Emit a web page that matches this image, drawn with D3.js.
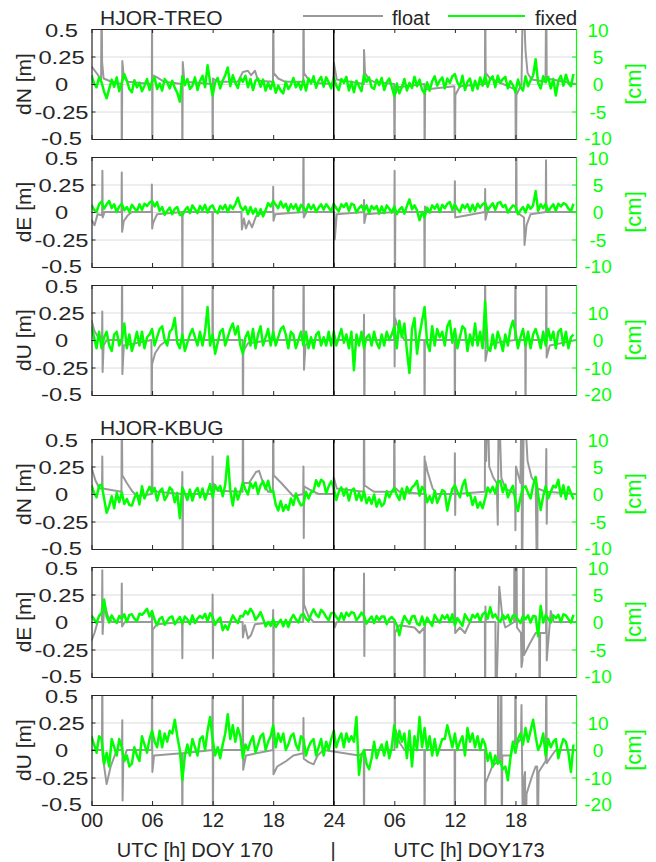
<!DOCTYPE html>
<html>
<head>
<meta charset="utf-8">
<script src="https://cdn.jsdelivr.net/npm/d3@7"></script>
<style>
  body { margin: 0; background: #fff; }
  text { font-family: Arial, 'Liberation Sans', sans-serif; }
</style>
</head>
<body>
<div id="app"></div>
<script>
// x axis (hours since 00 UTC of DOY 170, second day is DOY 173)
const hourTicks = [0, 6, 12, 18, 24, 30, 36, 42]
const hourLabels = ['00', '06', '12', '18', '24', '06', '12', '18']
const leftTicks = [-0.5, -0.25, 0, 0.25, 0.5]
const cmTicksNE = [-10, -5, 0, 5, 10]
const cmTicksU = [-20, -10, 0, 10]
const componentLabels = ['dN [m]', 'dE [m]', 'dU [m]']
const baselineTitles = ['HJOR-TREO', 'HJOR-KBUG']

// fixed solutions are sampled every 0.25 h, values in cm
const fixedStep = 0.25

// float solutions: [hour, metres]
const floatTreoN = [
  [0,0.16],[0.5,0.1],[0.95,0.04],[1.0,0.9],[1.05,0.2],[1.2,0.05],[2,0.02],[2.98,0],[3.0,-0.9],[3.05,0.21],[3.2,0.06],[3.6,0.02],
  [5.98,0],[6.0,0.9],[6.02,-0.9],[6.05,0.08],[6.5,0.06],[7.2,0.02],[8.98,0],[9.0,-0.9],[9.04,0.2],[9.2,0.02],
  [11.98,0],[12.0,-0.9],[12.04,0.05],[12.5,0.02],[14.5,0.02],[15.0,0.11],[15.5,0.12],[15.8,0.08],[16.2,0.12],[16.5,0.03],
  [17.98,0.02],[18.0,0.9],[18.05,0.1],[18.5,0.05],[19.2,0.02],[20.98,0.02],[21.0,0.9],[21.05,0.1],[21.5,0.04],[22.2,0.01],
  [23.95,0],[24.02,0.19],[24.3,0.04],[26.98,0],[27.0,0.31],[27.1,0.1],[27.5,0.04],[28,0.02],[29.98,0],[30.02,-0.9],[30.06,-0.1],[30.4,-0.03],
  [32.98,0],[33.0,-0.9],[33.05,-0.05],[35.95,-0.02],[36.0,-0.9],[36.05,-0.1],[36.5,-0.02],[38.98,0],[39.0,0.9],[39.05,0.1],[39.5,0.05],[40.5,0.01],
  [42.0,-0.05],[42.05,-0.9],[42.1,-0.1],[42.6,0],[42.75,0.9],[43.0,0.3],[43.2,0.1],[43.6,0.04],[44.98,0.02],[45.05,0.9],[45.1,0.05],[48,0]
]
const floatTreoE = [
  [0,-0.07],[0.3,-0.12],[0.6,-0.02],[1.05,-0.03],[1.08,0.375],[1.11,-0.05],[1.3,0],[2.97,0],[3.0,0.36],[3.03,-0.18],[3.2,-0.08],[3.6,-0.03],[4,0],
  [5.95,0],[5.98,0.25],[6.01,-0.15],[6.1,-0.1],[6.5,-0.02],[8.98,0],[9.0,-0.9],[9.03,0],[11.98,0],[12.0,-0.9],[12.03,0],
  [14.85,0],[14.9,-0.16],[15.1,-0.06],[15.3,-0.15],[15.6,-0.08],[15.9,-0.14],[16.3,-0.04],[17,0],[17.98,0],[18.0,0.23],[18.03,-0.08],[18.2,-0.02],
  [20.97,0],[21.0,0.9],[21.03,-0.05],[21.3,0],[24.05,0],[24.1,-0.25],[24.3,-0.02],[26.97,0],[27.0,0.11],[27.03,-0.1],[27.2,-0.02],
  [30.0,0],[30.03,0.375],[30.06,-0.9],[30.1,0],[32.97,0],[33.0,-0.9],[33.03,0.05],[33.2,0],[35.97,0],[36.0,0.28],[36.03,-0.05],
  [38.97,0],[39.0,0.21],[39.03,-0.07],[39.2,0],[42.05,0],[42.08,0.9],[42.12,0],[42.85,-0.05],[42.9,-0.3],[43.1,-0.12],[43.5,-0.02],
  [45.0,0],[45.03,0.47],[45.06,0],[48,0]
]
const floatTreoU = [
  [0,0.18],[0.3,0.08],[0.7,0.02],[1.04,0],[1.07,0.26],[1.1,-0.29],[1.2,-0.05],[1.5,0],[3.0,0],[3.03,0.9],[3.06,-0.31],[3.2,-0.05],
  [5.94,0],[5.96,-0.9],[6.0,-0.22],[6.3,-0.12],[6.8,-0.05],[7.5,0],[8.98,0],[9.0,0.9],[9.03,0],[11.98,0],[12.0,0.9],[12.03,0],
  [14.98,0],[15.0,-0.9],[15.04,-0.1],[15.5,-0.03],[17.98,0],[18.0,0.9],[18.03,0],[20.98,0],[21.02,0.9],[21.05,-0.27],[21.2,-0.05],[21.6,0],
  [26.97,0],[27.0,0.23],[27.03,-0.9],[27.07,0],[29.97,0],[30.0,0.9],[30.03,-0.24],[30.07,0.2],[30.5,0.08],[31,0],
  [32.97,0],[33.0,-0.9],[33.03,0],[35.97,0],[36.0,-0.9],[36.03,0],[38.97,0],[39.0,0.9],[39.03,-0.19],[39.2,-0.1],[39.8,-0.03],
  [41.97,0],[42.0,0.9],[42.03,0],[42.97,0],[43.0,-0.9],[43.03,0],[45.03,0],[45.06,0.9],[45.09,-0.16],[45.4,-0.05],[48,0]
]
const floatKbugN = [
  [0,0.24],[0.4,0.12],[0.8,0.05],[1.04,0.05],[1.07,0.34],[1.1,0.05],[2.97,0.02],[3.0,0.9],[3.05,0.17],[3.5,0.1],[4.0,0.03],[4.5,-0.02],
  [5.97,0],[6.0,0.9],[6.04,0.06],[6.5,0.02],[8.97,0],[9.0,0.2],[9.03,-0.9],[9.06,0],[11.97,0],[12.0,0.34],[12.03,-0.9],[12.06,0.1],[12.5,0.03],
  [14.97,0.02],[15.0,0.9],[15.04,0.1],[15.6,0.1],[16.3,0.2],[16.6,0.21],[17.0,0.1],[17.5,0.02],[17.97,0.02],[18.0,0.9],[18.04,0.17],[18.8,0.1],[19.5,0.03],[20,-0.02],
  [20.97,0],[21.0,0.25],[21.03,-0.4],[21.06,0.07],[21.6,0.04],[22.5,0],[23.97,0],[24.0,0.15],[24.3,0.05],[26.97,0.02],[27.0,0.9],[27.04,0.08],[27.5,0.05],[28.0,0.02],
  [29.97,0.02],[30.0,0.9],[30.04,0.06],[30.5,0.02],[32.97,0],[33.0,0.34],[33.03,-0.9],[33.06,0.3],[33.3,0.2],[33.8,0.05],[34.2,0],
  [35.97,0],[36.0,0.37],[36.03,-0.19],[36.06,0],[38.97,0.02],[39.0,0.9],[39.1,0.3],[39.25,0.9],[39.4,0.25],[39.8,0.15],[40.15,0.1],[40.25,-0.28],[40.35,0.9],[40.6,0.15],[41.0,0.05],
  [41.97,0],[42.0,-0.33],[42.05,0.25],[42.5,0.1],[42.6,0.9],[42.65,-0.9],[42.75,0.05],[42.85,0.9],[43.2,0.3],[43.6,0.15],[44.0,0.1],[44.15,-0.9],[44.2,0.05],
  [45.0,0.02],[45.06,0.41],[45.1,-0.27],[45.15,0.02],[48,0]
]
const floatKbugE = [
  [0,-0.17],[0.3,-0.1],[0.6,0],[1.04,0],[1.07,0.47],[1.1,-0.11],[1.2,0.05],[1.3,0.16],[1.6,0.06],[2.0,0],[2.97,0],[3.0,0.35],[3.03,-0.04],[3.3,0],
  [5.97,0],[6.0,0.07],[6.03,-0.9],[6.06,-0.07],[6.5,-0.02],[8.97,0],[9.0,-0.33],[9.03,0],[11.97,0],[12.0,0.25],[12.03,-0.33],[12.06,0],
  [14.97,0],[15.0,-0.14],[15.2,-0.03],[15.5,-0.15],[15.8,-0.12],[16.2,-0.02],[17.97,0],[18.0,0.11],[18.03,-0.9],[18.06,0],
  [20.97,0],[21.0,0.9],[21.05,0.16],[21.5,0.05],[22.0,0],[24.05,0],[24.1,-0.05],[24.3,0],[26.97,0],[27.0,0.44],[27.03,-0.31],[27.06,0],
  [30.0,0],[30.03,-0.9],[30.06,-0.1],[30.5,-0.03],[32.0,-0.05],[32.5,-0.1],[32.97,-0.05],[33.0,-0.9],[33.03,0],
  [35.97,0],[36.0,0.9],[36.03,-0.1],[36.5,-0.05],[37.0,-0.1],[37.5,0],[38.97,0],[39.0,-0.9],[39.03,0.14],[39.06,0],
  [40.02,0],[40.05,-0.9],[40.4,0.32],[40.7,0.05],[41.0,-0.05],[41.87,0],[41.9,0.9],[41.95,0],[42.1,0.9],[42.15,-0.05],[42.55,-0.1],[42.6,-0.41],[42.7,-0.35],[42.8,0.9],[42.85,-0.3],[43.4,-0.2],[44.0,-0.1],
  [44.35,-0.1],[44.4,-0.9],[44.45,-0.1],[45.03,-0.1],[45.06,0.9],[45.1,-0.35],[45.5,0.1],[45.8,0],[48,0]
]
const floatKbugU = [
  [0,0],[1.04,0],[1.07,0.9],[1.1,-0.05],[1.5,-0.31],[1.9,-0.15],[2.5,0],[3.02,0],[3.05,0.27],[3.08,-0.46],[3.15,-0.1],[3.5,0],
  [5.97,0],[6.0,0.9],[6.03,-0.2],[6.2,-0.05],[8.97,-0.03],[9.0,-0.9],[9.03,-0.03],[11.97,0],[12.0,0.9],[12.03,-0.9],[12.06,0],
  [14.97,0],[15.0,0.9],[15.03,-0.18],[15.3,-0.05],[17.97,0],[18.0,0.9],[18.03,-0.22],[18.4,-0.15],[19.3,-0.1],[20.0,-0.05],
  [20.97,-0.03],[21.0,0.29],[21.03,-0.08],[21.5,-0.11],[22.0,-0.13],[22.4,-0.05],[23,0],[26.5,-0.05],[26.97,-0.02],[27.0,-0.9],[27.03,0],
  [30.02,0],[30.05,0.9],[30.08,0.2],[30.5,0.07],[31,0],[32.97,0],[33.0,-0.9],[33.03,0],[35.97,0],[36.0,-0.9],[36.03,0],
  [38.97,0],[39.0,-0.9],[39.05,-0.3],[39.7,-0.15],[40.25,-0.1],[40.3,0.9],[40.35,-0.1],[40.55,-0.05],[40.6,0.9],[40.65,-0.9],[40.7,-0.05],[41.5,-0.05],
  [41.97,0.1],[42.0,0.9],[42.05,0.05],[42.55,0.1],[42.6,0.41],[42.75,-0.9],[42.8,-0.3],[42.95,-0.2],[43.0,-0.9],[43.1,-0.4],[43.6,-0.25],[44.0,-0.15],
  [44.15,-0.15],[44.2,-0.9],[44.3,-0.2],[45.0,-0.1],[45.06,0.9],[45.1,-0.12],[45.6,-0.05],[46,0],[48,0]
]

// fixed solutions [cm], one row per 6 hours
const fixedTreoN = [
  1.6,0.1,-0.6,1.2, 0.3,-1.4,-2.6,-0.9, 0.8,-0.5,1.2,-1.3, 0.2,1.8,0.6,-0.9, -1.5,0.7,-0.6,0.2, -1.3,-0.3,0.9,-1.1,
  0.4,1.2,-0.9,0.1, -1.2,0.9,0.3,-0.8, 0.6,-0.7,-1.6,-3.2, 1.4,-0.2,0.9,-0.9, -0.3,1.2,-1.1,0.5, 1.5,-0.6,3.4,0.4,
  -2.1,0.3,1.1,-0.8, 0.6,1.6,3.0,-0.4, 1.6,0.2,-0.7,1.1, 0.4,1.5,-0.6,0.9, -1.1,0.6,1.0,-0.5, 0.8,-1.2,0.2,-0.9,
  0.5,-1.6,-0.3,-1.2, -1.7,0.4,-0.9,-0.2, 1.1,-0.6,0.3,-1.0, 0.7,-1.2,1.0,0.1, 1.4,-0.7,0.6,1.3, -0.5,1.2,0.3,-0.8,
  1.2,-0.3,-1.1,0.9, 0.2,1.3,-1.2,0.4, -1.5,0.6,-0.4,-1.3, 1.7,0.4,1.2,-0.6, -0.9,0.8,-0.2,1.1, -1.1,0.3,1.0,-0.5,
  -2.2,0.1,-1.7,-0.6, 0.9,-1.2,0.2,-0.7, 1.3,-0.4,0.8,-1.0, -1.7,0.3,-1.2,0.5, 1.4,-0.3,0.6,1.2, -0.8,1.0,0.2,1.4,
  1.8,0.3,-0.5,1.5, -1.1,0.4,1.0,-1.2, 0.6,-0.9,1.2,-0.3, 1.6,-0.5,0.9,1.4, -0.6,1.5,0.2,0.9, 1.3,-0.8,0.5,-0.2,
  -1.5,0.8,-0.6,-1.2, 1.4,-0.4,0.7,1.5, 4.5,0.2,-0.8,1.4, 0.3,1.3,-0.8,0.9, -2.1,0.6,1.5,-0.3, 1.7,0.2,-0.4,1.8
]
const fixedTreoE = [
  1.3,0.4,0.0,1.4, 1.9,0.6,1.4,2.0, 0.7,1.4,0.0,1.0, 1.5,0.3,0.9,0.0, 1.3,0.7,0.1,1.4, 0.4,1.5,1.1,1.7,
  2.0,1.0,1.8,0.2, 0.9,-0.5,0.2,0.8, -0.4,0.6,0.9,-0.5, -0.6,0.3,0.9,-0.2, 1.2,0.5,-0.2,1.1, 0.3,1.3,-0.1,0.9,
  1.2,0.2,-0.2,1.1, 0.5,1.3,0.0,1.2, 0.6,1.4,2.6,1.0, 0.3,1.0,-0.4,0.9, -0.3,0.6,-0.7,0.5, -0.8,0.3,1.6,1.0,
  2.0,1.3,0.7,1.9, 0.8,1.5,0.1,1.4, 0.6,1.4,0.0,1.3, 0.8,0.1,1.4,0.5, 1.3,0.0,0.8,1.4, 0.4,1.4,0.8,0.1,
  1.5,0.7,0.1,1.4, 0.9,1.6,0.2,1.5, 1.3,-0.1,0.7,1.2, 0.2,1.2,-0.2,1.1, 0.5,1.1,-0.3,1.0, -0.2,1.2,0.6,-0.1,
  1.0,-0.4,0.4,0.9, -0.3,1.1,2.3,0.5, 1.2,0.3,-1.5,0.0, -1.0,0.8,-0.1,1.2, 0.6,1.4,0.0,1.3, 0.7,1.5,1.8,0.4,
  1.4,0.5,0.0,1.3, 0.7,1.4,0.1,1.3, 0.2,1.5,0.8,1.4, 1.7,0.3,1.0,1.6, 0.4,1.6,1.8,0.9, 1.3,-0.1,0.6,1.2,
  1.0,-0.4,0.3,0.9, -0.1,1.3,0.6,1.2, 3.8,0.2,1.4,0.7, 1.5,0.1,0.8,1.4, 0.2,1.5,1.0,1.6, 1.4,0.6,0.1,1.5
]
const fixedTreoU = [
  5,1,-3,3, -3,1,3,-2, -4,2,3,-2, 0,6,-3,2, -4,-1,3,-2, 3,-3,1,2,
  4,-2,1,4, 5,0,-2,3, 4,8,-1,-3, 2,-4,-1,2, 4,1,-2,3, -2,3,12,-2,
  2,-5,-1,3, 4,-2,1,4, 6,2,5,-2, -5,1,3,-2, 4,-3,2,5, -2,1,4,-2,
  3,-2,1,4, 5,2,-3,3, 2,-3,0,3, -2,3,-3,1, -3,2,3,-2, 1,-2,3,-2,
  3,-2,1,4, -1,2,-3,3, -11,2,-2,3, -3,1,2,-2, 3,-1,-3,2, -2,3,0,2,
  5,-3,7,1, 6,-4,-12,4, 8,-5,2,7, 12,-1,-4,5, -2,4,1,3, -2,5,7,-1,
  4,-3,1,5, 4,-4,2,-2, 6,-2,3,-3, 14,-3,-4,2, -3,3,0,-4, 2,-2,4,7,
  3,-3,1,4, -2,3,-3,2, 4,1,-3,3, -2,4,0,3, -3,3,4,-2, 3,-3,1,2
]
const fixedKbugN = [
  1.6,0.2,-0.6,1.5, 1.7,-0.8,-3.4,-2.2, -0.4,-2.6,0.2,-1.5, 0.3,-1.8,-0.9,-2.0, -2.1,-0.7,0.2,-1.9, 1.4,-0.8,0.3,1.3,
  0.2,1.1,-1.2,0.5, 1.0,-1.1,-0.3,1.2, 0.7,-1.5,0.2,-4.4, 1.2,0.1,-1.1,0.8, -1.2,0.4,1.1,-0.6, 1.0,-1.0,0.3,1.8,
  -0.6,1.6,0.7,1.5, -0.4,1.7,6.8,0.6, -2.1,1.0,-1.0,0.4, 2.1,0.8,-0.1,2.0, 1.1,2.1,0.0,1.6, 2.3,0.9,2.4,0.5,
  0.6,-1.9,-3.0,-1.3, -3.1,-2.0,-2.9,-0.8, -2.0,0.1,-1.2,-2.1, -1.8,0.4,-0.8,0.3, 0.5,2.5,1.4,2.6, 2.2,0.1,1.4,2.3,
  1.1,-1.1,0.4,1.2, -0.3,1.0,-1.2,0.6, 1.0,-1.1,0.2,-1.2, 0.5,-1.7,-0.6,-1.8, -0.1,-2.3,-1.0,-2.2, -1.7,0.5,-0.6,0.4,
  1.1,-0.2,-1.1,1.0, -0.9,1.3,0.2,1.2, 1.6,2.4,-0.3,1.3, 0.7,-1.5,-0.4,-1.6, 0.6,-1.6,-0.5,0.7, 0.4,-3.0,-0.8,0.9,
  1.6,0.4,-0.6,1.5, 2.6,-0.3,0.1,-2.0, -0.6,-2.5,-1.5,-2.6, -0.8,1.2,0.3,1.3, 0.1,2.2,2.4,0.3, 1.7,-0.6,0.6,1.5,
  -1.3,-3.1,-0.6,1.2, 1.4,0.2,-0.8,1.5, 3.1,-0.2,-2.9,-0.4, 1.4,-0.8,0.4,1.5, 1.2,2.6,-0.4,1.6, -0.9,1.3,0.2,-1.0
]
const fixedKbugE = [
  1.2,0.5,-0.2,1.1, 1.6,4.1,1.0,-0.1, 1.2,0.4,-0.2,1.1, 0.6,1.4,0.0,1.3, 1.4,0.6,0.1,1.5, 1.3,1.8,2.4,1.0,
  2.0,0.4,-0.6,0.6, 0.9,-0.5,0.2,0.8, 1.0,-0.4,0.3,0.9, -0.3,1.0,0.5,-0.4, 1.2,-0.2,0.6,1.1, 0.7,1.5,0.1,1.6,
  0.9,-0.5,0.3,0.8, -1.5,-0.6,-1.4,0.0, 1.2,0.4,-0.2,1.1, 1.0,2.0,1.4,2.4, 1.7,0.4,1.0,1.8, 0.6,-0.8,0.0,-0.7,
  0.5,-0.9,-0.2,0.4, -0.8,0.4,-0.9,0.5, 1.3,0.5,-0.1,1.2, 1.5,0.6,0.1,1.4, 2.3,1.4,0.9,2.2, 1.7,0.9,0.3,1.6,
  1.7,0.9,0.3,1.6, 0.4,1.7,1.1,1.8, 1.6,0.3,0.9,1.7, 1.1,-0.3,0.4,1.0, -0.2,1.1,0.3,1.0, 1.0,-0.4,0.5,0.9,
  0.4,-0.6,-2.4,-0.2, 1.1,0.3,-0.3,1.0, 1.1,-0.3,-0.6,1.0, -0.6,0.8,0.0,-0.7, 1.3,0.5,-0.1,1.2, 0.6,1.3,0.0,1.4,
  -0.6,0.7,0.0,-0.7, 1.4,0.6,0.0,1.3, 0.8,1.5,0.1,1.4, 1.8,0.6,2.7,0.8, 1.4,0.5,0.0,1.3, 0.6,1.3,-0.1,1.2,
  1.2,0.4,-0.2,1.1, 0.5,1.2,-0.1,1.1, 1.0,-2.6,2.9,-0.1, 1.3,0.6,-0.1,1.2, 0.7,1.3,0.0,1.4, 1.2,0.5,-0.1,1.3
]
const fixedKbugU = [
  5,2,-1,5, 4,-5,-1,-6, 4,1,-2,4, 1,-4,-2,-6, -5,1,-2,-4, 5,2,-1,4,
  7,3,1,7, 1,6,3,7, 6,11,5,0, -11,-2,2,-2, 4,1,-2,4, 5,0,7,12,
  4,-2,1,-3, 2,6,13,4, 9,3,8,5, -3,2,0,3, 5,-1,2,5, 6,0,3,5,
  9,1,6,3, 6,0,2,5, 6,2,0,5, 4,-2,1,3, 4,-2,1,4, -2,3,0,4,
  7,1,4,6, 1,6,3,5, 3,12,-9,-2, 0,-5,-7,-3, 3,-3,0,2, -2,3,-3,1,
  9,1,7,3, 6,-3,7,-6, 5,0,12,1, 8,0,5,-2, 4,-2,1,4, 4,9,5,1,
  6,0,3,5, -2,8,3,6, 1,5,0,4, 2,-4,-1,-6, -2,-5,-4,-7, -6,-11,-3,3,
  -1,4,6,2, 8,3,7,11, 5,0,2,6, -2,4,1,3, 4,-3,1,4, 3,-1,-8,2
]

// panel table built from the arrays above
const panels = [
  { float: floatTreoN, fixed: fixedTreoN, label: componentLabels[0], cm: [-10, 10], cmTicks: cmTicksNE },
  { float: floatTreoE, fixed: fixedTreoE, label: componentLabels[1], cm: [-10, 10], cmTicks: cmTicksNE },
  { float: floatTreoU, fixed: fixedTreoU, label: componentLabels[2], cm: [-20, 20], cmTicks: cmTicksU },
  { float: floatKbugN, fixed: fixedKbugN, label: componentLabels[0], cm: [-10, 10], cmTicks: cmTicksNE },
  { float: floatKbugE, fixed: fixedKbugE, label: componentLabels[1], cm: [-10, 10], cmTicks: cmTicksNE },
  { float: floatKbugU, fixed: fixedKbugU, label: componentLabels[2], cm: [-20, 20], cmTicks: cmTicksU }
]

// layout
const W = 656, H = 862
const panelTops = [29, 157, 285, 439, 567, 695]
const panelH = 110
const floatColor = '#999999'
const fixedColor = '#00ff00'
const axisColor = '#262626'

const svg = d3.select('#app').append('svg')
  .attr('width', W).attr('height', H)
  .style('background', '#fff')

const x = d3.scaleLinear().domain([0, 48]).range([91.5, 576])
const plotW = x(48) - x(0)

// style an axis group
function styleAxis(a, color, size) {
  a.attr('font-family', null).attr('font-size', null)
  a.select('.domain').attr('stroke', color).attr('stroke-width', 1.2)
  a.selectAll('.tick line').attr('stroke', color).attr('stroke-width', 1)
  a.selectAll('.tick text').attr('fill', color).style('font-size', size + 'px')
}

panels.forEach((p, k) => {
  const top = panelTops[k]
  const bottom = top + panelH
  const yL = d3.scaleLinear().domain([-0.5, 0.5]).range([bottom, top])
  const yR = d3.scaleLinear().domain(p.cm).range([bottom, top])
  const g = svg.append('g')

  g.append('clipPath').attr('id', 'clip' + k)
    .append('rect').attr('x', x(0)).attr('y', top).attr('width', plotW).attr('height', panelH)

  // horizontal grid
  g.append('g')
    .attr('transform', `translate(${x(0)},0)`)
    .call(d3.axisLeft(yL).tickValues(leftTicks).tickSize(-plotW).tickFormat(''))
    .call(a => a.select('.domain').remove())
    .call(a => a.selectAll('line').attr('stroke', '#dcdcdc'))

  const plot = g.append('g').attr('clip-path', `url(#clip${k})`)

  // float solution
  plot.append('path')
    .datum(p.float)
    .attr('fill', 'none')
    .attr('stroke', floatColor)
    .attr('stroke-width', 2)
    .attr('stroke-linejoin', 'round')
    .attr('d', d3.line().x(d => x(d[0])).y(d => yL(d[1])))

  // fixed solution on the cm axis
  plot.append('path')
    .datum(p.fixed)
    .attr('fill', 'none')
    .attr('stroke', fixedColor)
    .attr('stroke-width', 2.5)
    .attr('stroke-linejoin', 'round')
    .attr('d', d3.line().x((d, i) => x(i * fixedStep)).y(d => yR(d)))

  // day boundary
  g.append('line')
    .attr('x1', x(24)).attr('x2', x(24))
    .attr('y1', top).attr('y2', bottom)
    .attr('stroke', '#000').attr('stroke-width', 1.5)

  // left axis, labels drawn a bit wider like the original
  g.append('g')
    .attr('transform', `translate(${x(0)},0)`)
    .call(d3.axisLeft(yL).tickValues(leftTicks).tickSize(-4).tickSizeOuter(0).tickFormat(d => String(d)))
    .call(a => styleAxis(a, axisColor, 19))
    .call(a => a.selectAll('.tick text')
      .attr('text-anchor', 'middle')
      .attr('x', -30 / 1.25)
      .attr('transform', 'scale(1.25,1)')
      .attr('dy', d => d === 0.5 ? '0.42em' : d === -0.5 ? '0.28em' : '0.35em'))

  // right axis (cm)
  g.append('g')
    .attr('transform', `translate(${x(48)},0)`)
    .call(d3.axisRight(yR).tickValues(p.cmTicks).tickSize(-4).tickSizeOuter(0).tickFormat(d => String(d)))
    .call(a => styleAxis(a, fixedColor, 19))
    .call(a => a.selectAll('.tick text')
      .attr('text-anchor', 'middle')
      .attr('x', 22)
      .attr('dy', d => d === p.cm[1] ? '0.42em' : d === p.cm[0] ? '0.28em' : '0.35em'))

  // top and bottom x axes
  g.append('g')
    .attr('transform', `translate(0,${top})`)
    .call(d3.axisTop(x).tickValues(hourTicks).tickSize(-4).tickSizeOuter(0).tickFormat(''))
    .call(a => styleAxis(a, axisColor, 19))

  const last = k === panels.length - 1
  g.append('g')
    .attr('transform', `translate(0,${bottom})`)
    .call(d3.axisBottom(x).tickValues(hourTicks).tickSize(-4).tickSizeOuter(0)
      .tickFormat((d, i) => last ? hourLabels[i] : ''))
    .call(a => styleAxis(a, axisColor, 20))
    .call(a => a.selectAll('.tick text').attr('y', 8).attr('dy', '0.71em'))

  // axis titles
  g.append('text')
    .attr('transform', `translate(24,${(top + bottom) / 2}) rotate(-90)`)
    .attr('text-anchor', 'middle')
    .attr('dy', '0.35em')
    .attr('fill', axisColor)
    .style('font-size', '21px')
    .text(p.label)

  g.append('text')
    .attr('transform', `translate(633,${(top + bottom) / 2}) rotate(-90)`)
    .attr('text-anchor', 'middle')
    .attr('dy', '0.35em')
    .attr('fill', fixedColor)
    .style('font-size', '22px')
    .text('[cm]')
})

// baseline titles
svg.selectAll('.title')
  .data(baselineTitles)
  .join('text')
  .attr('class', 'title')
  .attr('x', 100)
  .attr('y', (d, i) => i === 0 ? 25 : 435)
  .attr('fill', axisColor)
  .style('font-size', '21px')
  .text(d => d)

// legend
const legend = svg.append('g').style('font-size', '20px')
legend.append('line').attr('x1', 303).attr('x2', 383).attr('y1', 16).attr('y2', 16)
  .attr('stroke', floatColor).attr('stroke-width', 2)
legend.append('text').attr('x', 392).attr('y', 25).attr('fill', axisColor).text('float')
legend.append('line').attr('x1', 448).attr('x2', 525).attr('y1', 16).attr('y2', 16)
  .attr('stroke', fixedColor).attr('stroke-width', 2)
legend.append('text').attr('x', 535).attr('y', 25).attr('fill', axisColor).text('fixed')

// bottom labels
const bottomTexts = [
  { t: 'UTC [h] DOY 170', x: 195 },
  { t: '|', x: 333 },
  { t: 'UTC [h] DOY173', x: 469 }
]
svg.selectAll('.xlab')
  .data(bottomTexts)
  .join('text')
  .attr('class', 'xlab')
  .attr('x', d => d.x)
  .attr('y', 857)
  .attr('text-anchor', 'middle')
  .attr('fill', axisColor)
  .style('font-size', '20px')
  .text(d => d.t)
</script>
</body>
</html>
